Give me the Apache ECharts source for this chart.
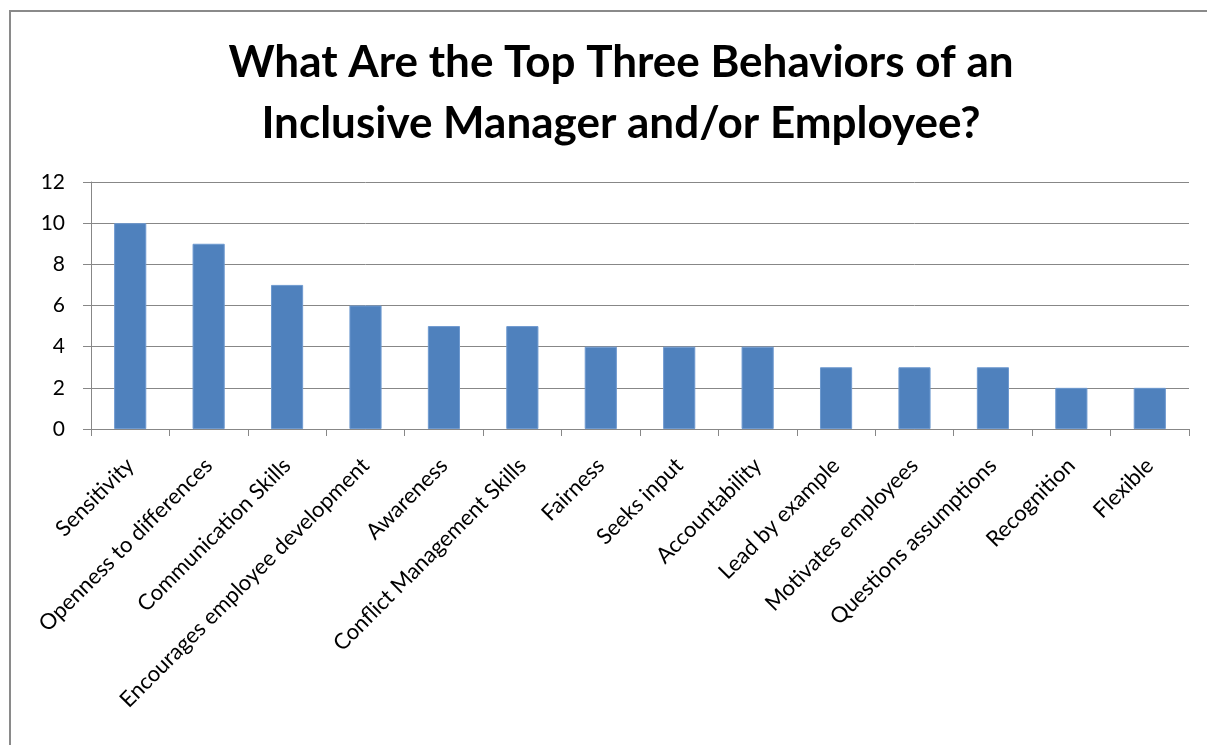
<!DOCTYPE html>
<html>
<head>
<meta charset="utf-8">
<script src="https://cdn.jsdelivr.net/npm/echarts@6/dist/echarts.min.js"></script>
<style>
  html, body { margin: 0; padding: 0; background: #fff; }
  #frame { position: absolute; left: 9px; top: 10px; width: 1300px; height: 800px; border: 2px solid #8a8a8a; box-sizing: border-box; }
  #chart { position: absolute; left: 0; top: 0; width: 1207px; height: 745px; }
</style>
</head>
<body>
<div id="frame"></div>
<div id="chart"></div>
<script>
// Survey responses: top behaviors of an inclusive manager/employee
const categories = [
  'Sensitivity', 'Openness to differences', 'Communication Skills',
  'Encourages employee development', 'Awareness', 'Conflict Management Skills',
  'Fairness', 'Seeks input', 'Accountability', 'Lead by example',
  'Motivates employees', 'Questions assumptions', 'Recognition', 'Flexible'
];
const counts = [10, 9, 7, 6, 5, 5, 4, 4, 4, 3, 3, 3, 2, 2];
const yTicks = { min: 0, max: 12, step: 2 };
const titleLines = ['What Are the Top Three Behaviors of an', 'Inclusive Manager and/or Employee?'];

const font = 'Lato, "Open Sans", sans-serif';
const chart = echarts.init(document.getElementById('chart'), null, { renderer: 'canvas' });
chart.setOption({
  backgroundColor: 'transparent',
  animation: false,
  title: {
    text: titleLines.join('\n'),
    left: 616,
    textAlign: 'center',
    top: 27,
    textStyle: { fontFamily: font, fontWeight: 'bold', fontSize: 44, lineHeight: 61, color: '#000' }
  },
  grid: { left: 91, right: 18, top: 182, bottom: 316 },
  xAxis: {
    type: 'category',
    data: categories,
    axisLine: { lineStyle: { color: '#878787', width: 1 } },
    axisTick: { show: true, length: 7, lineStyle: { color: '#878787' } },
    axisLabel: { rotate: 45, fontFamily: font, fontSize: 22, color: '#000', margin: 33, interval: 0 }
  },
  yAxis: {
    type: 'value',
    min: yTicks.min,
    max: yTicks.max,
    interval: yTicks.step,
    axisLine: { show: true, lineStyle: { color: '#878787', width: 1 } },
    axisTick: { show: true, length: 8, lineStyle: { color: '#878787' } },
    splitLine: { lineStyle: { color: '#878787', width: 1 } },
    axisLabel: { fontFamily: font, fontSize: 21, color: '#000', margin: 26 }
  },
  series: [{
    type: 'bar',
    data: counts,
    barWidth: '41%',
    itemStyle: { color: '#4F81BD', borderColor: '#6F9AD0', borderWidth: 1 }
  }]
});
</script>
</body>
</html>
